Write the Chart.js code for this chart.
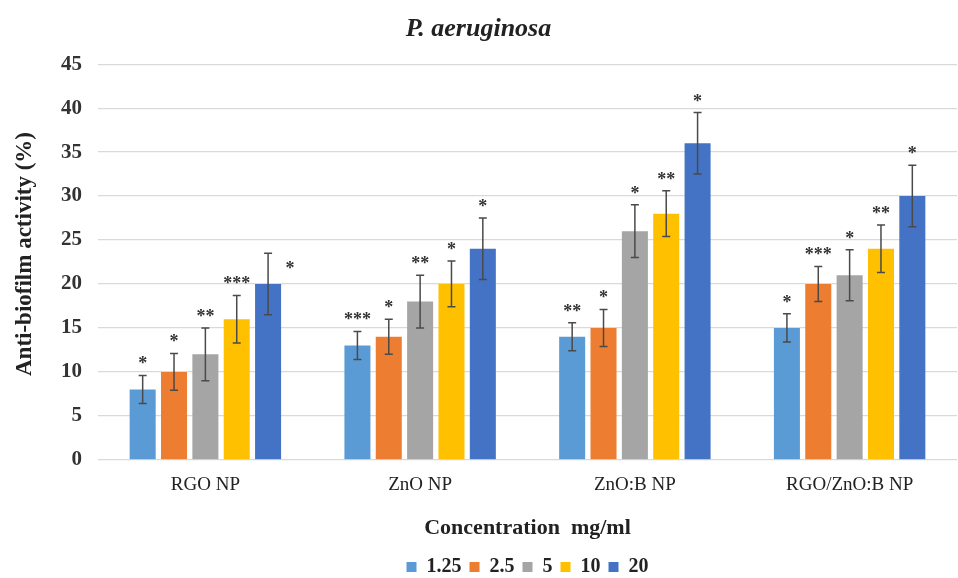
<!DOCTYPE html>
<html>
<head>
<meta charset="utf-8">
<script src="https://cdn.jsdelivr.net/npm/chart.js@4.4.0/dist/chart.umd.min.js"></script>
<style>
  html, body { margin: 0; padding: 0; background: #fff; }
  #wrap { width: 958px; height: 578px; }
</style>
</head>
<body>
<div id="wrap"><canvas id="biofilmChart"></canvas></div>
<script>
// values
const categories = ['RGO NP', 'ZnO NP', 'ZnO:B NP', 'RGO/ZnO:B NP'];
const concentrations = ['1.25', '2.5', '5', '10', '20'];

const values125 = [8, 13, 14, 15];
const values25 = [10, 14, 15, 20];
const values5 = [12, 18, 26, 21];
const values10 = [16, 20, 28, 24];
const values20 = [20, 24, 36, 30];

const errors125 = [1.6, 1.6, 1.6, 1.6];
const errors25 = [2.1, 2.0, 2.1, 2.0];
const errors5 = [3.0, 3.0, 3.0, 2.9];
const errors10 = [2.7, 2.6, 2.6, 2.7];
const errors20 = [3.5, 3.5, 3.5, 3.5];

const stars125 = ['*', '***', '**', '*'];
const stars25 = ['*', '*', '*', '***'];
const stars5 = ['**', '**', '*', '*'];
const stars10 = ['***', '*', '**', '**'];
const stars20 = ['*', '*', '*', '*'];

const yTicks = [0, 5, 10, 15, 20, 25, 30, 35, 40, 45];

const colors = ['#5B9BD5', '#ED7D31', '#A5A5A5', '#FFC000', '#4472C4'];
const allValues = [values125, values25, values5, values10, values20];
const allErrors = [errors125, errors25, errors5, errors10, errors20];
const allStars = [stars125, stars25, stars5, stars10, stars20];

const serif = "'Liberation Serif', 'Times New Roman', serif";

// error bars + significance stars
const errorBarPlugin = {
  id: 'errorBars',
  afterDatasetsDraw(chart) {
    const ctx = chart.ctx;
    const yScale = chart.scales.y;
    ctx.save();
    chart.data.datasets.forEach((ds, i) => {
      const meta = chart.getDatasetMeta(i);
      meta.data.forEach((bar, j) => {
        const v = ds.data[j];
        const err = ds.errors[j];
        const top = yScale.getPixelForValue(v + err);
        const bottom = yScale.getPixelForValue(v - err);
        ctx.strokeStyle = '#4a4a4a';
        ctx.lineWidth = 1.5;
        ctx.beginPath();
        ctx.moveTo(bar.x, top);
        ctx.lineTo(bar.x, bottom);
        ctx.moveTo(bar.x - 4, top);
        ctx.lineTo(bar.x + 4, top);
        ctx.moveTo(bar.x - 4, bottom);
        ctx.lineTo(bar.x + 4, bottom);
        ctx.stroke();

        ctx.fillStyle = '#333';
        ctx.font = 'bold 18px ' + serif;
        ctx.textAlign = 'center';
        ctx.textBaseline = 'alphabetic';
        // the 20 mg/ml star of RGO NP sits beside its bar in the figure
        if (i === 4 && j === 0) {
          ctx.fillText(ds.stars[j], bar.x + bar.width / 2 + 9, top + 21);
        } else {
          ctx.fillText(ds.stars[j], bar.x, top - 6);
        }
      });
    });
    ctx.restore();
  }
};

const yTitlePlugin = {
  id: 'yTitle',
  afterDraw(chart) {
    const ctx = chart.ctx;
    ctx.save();
    ctx.translate(25, 254);
    ctx.rotate(-Math.PI / 2);
    ctx.fillStyle = '#222';
    ctx.font = 'bold 23px ' + serif;
    ctx.textAlign = 'center';
    ctx.textBaseline = 'middle';
    ctx.fillText('Anti-biofilm activity (%)', 0, 0);
    ctx.restore();
  }
};

const datasets = concentrations.map((c, i) => ({
  label: c,
  data: allValues[i],
  errors: allErrors[i],
  stars: allStars[i],
  backgroundColor: colors[i],
  borderWidth: 0,
  barPercentage: 0.83,
  categoryPercentage: 0.73
}));

const ctx = document.getElementById('biofilmChart').getContext('2d');
new Chart(ctx, {
  type: 'bar',
  data: {
    labels: categories,
    datasets: datasets
  },
  options: {
    responsive: true,
    maintainAspectRatio: false,
    animation: false,
    layout: {
      padding: { left: 0, right: 1, top: 0, bottom: -9 }
    },
    scales: {
      y: {
        min: 0,
        max: 45,
        afterBuildTicks: (scale) => {
          scale.ticks = yTicks.map(v => ({ value: v }));
        },
        afterFit: (scale) => {
          scale.width = 98;
        },
        border: { display: false },
        grid: { color: '#d9d9d9', lineWidth: 1.3, drawTicks: false },
        ticks: {
          padding: 16,
          color: '#333',
          font: { family: serif, size: 21, weight: 'bold' }
        }
      },
      x: {
        border: { display: false },
        grid: { display: false, drawTicks: false },
        ticks: {
          padding: 14,
          color: '#222',
          font: { family: serif, size: 19 }
        },
        title: {
          display: true,
          text: 'Concentration  mg/ml',
          color: '#222',
          font: { family: serif, size: 22, weight: 'bold' },
          padding: { top: 5, bottom: 7 }
        }
      }
    },
    plugins: {
      title: {
        display: true,
        text: 'P. aeruginosa',
        color: '#222',
        font: { family: serif, size: 26, weight: 'bold', style: 'italic' },
        padding: { top: 14, bottom: 19 }
      },
      legend: {
        position: 'bottom',
        fullSize: false,
        labels: {
          boxWidth: 10,
          boxHeight: 10,
          padding: 8,
          color: '#222',
          font: { family: serif, size: 20, weight: 'bold' }
        }
      },
      tooltip: { enabled: false }
    }
  },
  plugins: [errorBarPlugin, yTitlePlugin]
});
</script>
</body>
</html>
